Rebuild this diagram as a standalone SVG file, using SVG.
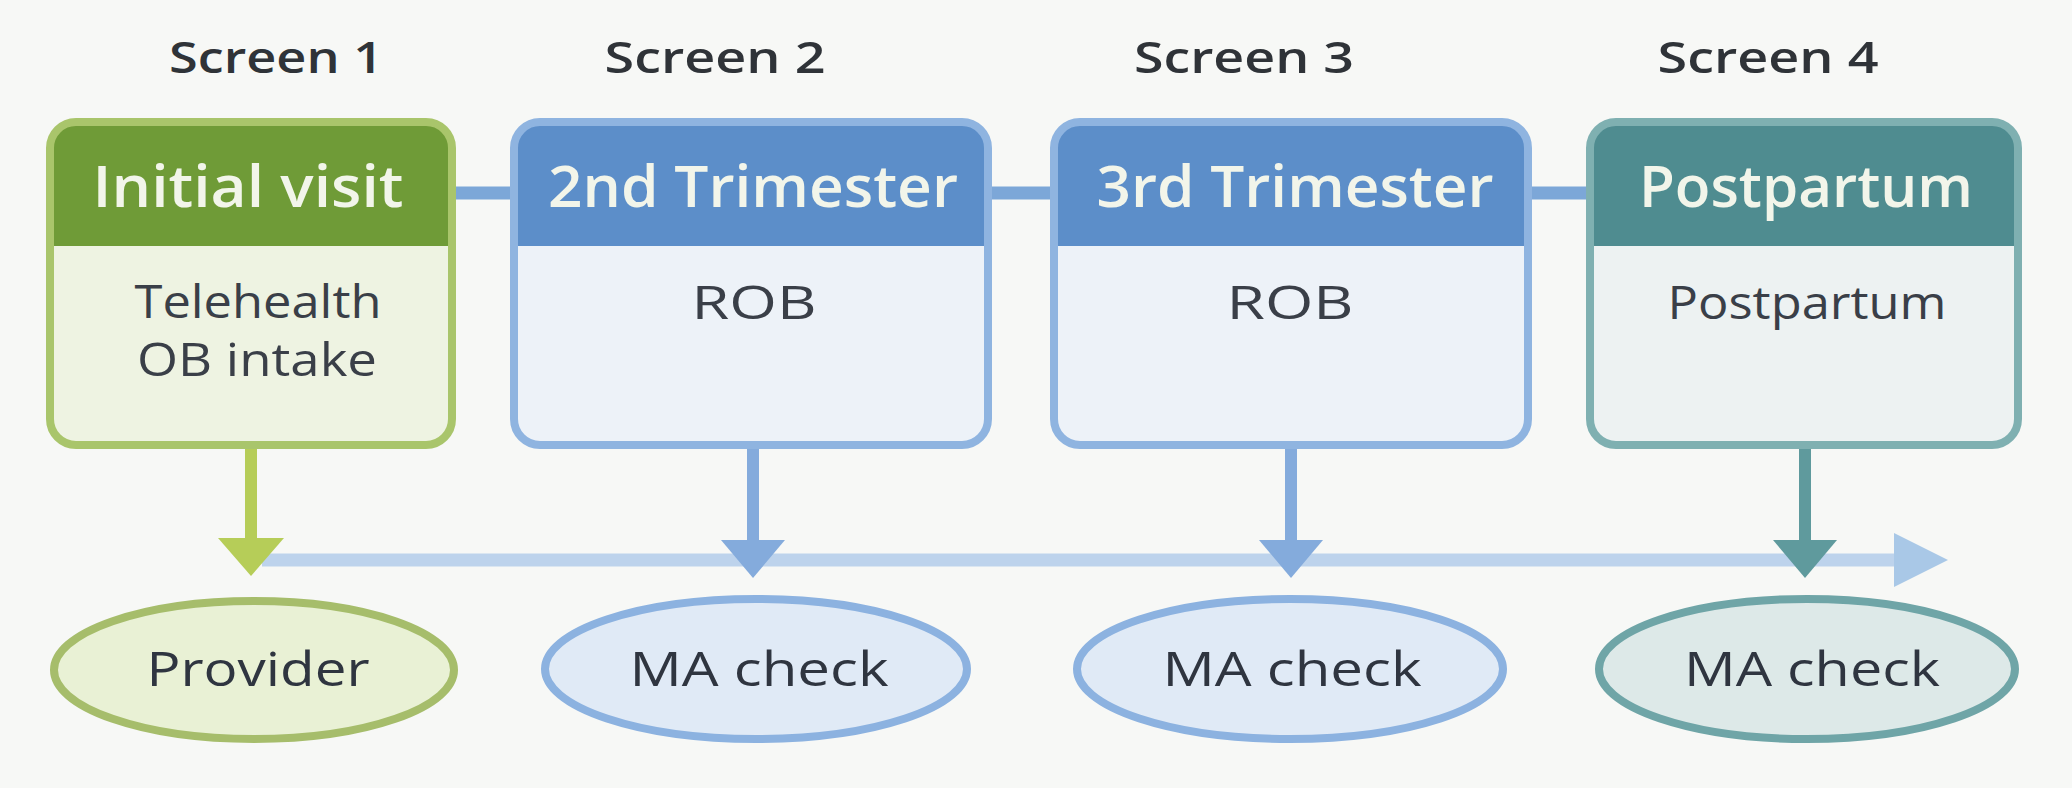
<svg xmlns="http://www.w3.org/2000/svg" width="2072" height="788" viewBox="0 0 2072 788">
  <defs>
    <style>
      text { font-family: "Open Sans", Lato, "Liberation Sans", sans-serif; text-anchor: middle; }
      .screen { font-weight: 600; font-size: 43px; fill: #2f3338; }
      .head { font-weight: 600; font-size: 58px; fill: #f2f5ea; }
      .body { font-weight: 400; font-size: 45px; fill: #3a3f48; }
      .oval { font-weight: 500; font-size: 48px; fill: #2f3540; }
      .frame { fill: none; stroke-width: 8; }
      .g-frame { stroke: #a9c56b; }
      .b-frame { stroke: #8fb4e0; }
      .t-frame { stroke: #7fb0b1; }
      .g-body { fill: #eef3e2; }
      .b-body { fill: #edf2f8; }
      .t-body { fill: #edf2f2; }
      .g-head { fill: #6f9b37; }
      .b-head { fill: #5c8ec9; }
      .t-head { fill: #4f8c90; }
      .link { stroke: #7ca7d8; stroke-width: 13; fill: none; }
      .drop { stroke-width: 12; fill: none; }
      .timeline { stroke: #bdd3ec; stroke-width: 13; fill: none; }
      .g-oval { fill: #e9f1d5; stroke: #a6bd6b; stroke-width: 8; }
      .b-oval { fill: #e0eaf6; stroke: #8cb2e0; stroke-width: 8; }
      .t-oval { fill: #dde9e8; stroke: #6fa5a7; stroke-width: 8; }
    </style>
    <marker id="head-green" markerUnits="userSpaceOnUse" markerWidth="38" markerHeight="66" refX="0" refY="33" orient="auto" viewBox="0 0 38 66">
      <path d="M0,0 L38,33 L0,66 Z" fill="#b6cd58"/>
    </marker>
    <marker id="head-blue" markerUnits="userSpaceOnUse" markerWidth="38" markerHeight="64" refX="0" refY="32" orient="auto" viewBox="0 0 38 64">
      <path d="M0,0 L38,32 L0,64 Z" fill="#84abdc"/>
    </marker>
    <marker id="head-teal" markerUnits="userSpaceOnUse" markerWidth="38" markerHeight="64" refX="0" refY="32" orient="auto" viewBox="0 0 38 64">
      <path d="M0,0 L38,32 L0,64 Z" fill="#5f9a9d"/>
    </marker>
    <marker id="head-line" markerUnits="userSpaceOnUse" markerWidth="54" markerHeight="54" refX="0" refY="27" orient="auto" viewBox="0 0 54 54">
      <path d="M0,0 L54,27 L0,54 Z" fill="#a9c8e7"/>
    </marker>
  </defs>

  <rect width="2072" height="788" fill="#f7f8f6"/>

  <!-- screen titles -->
  <g id="titles">
    <text class="screen" x="276" y="73" textLength="214" lengthAdjust="spacingAndGlyphs">Screen 1</text>
    <text class="screen" x="715" y="73" textLength="221" lengthAdjust="spacingAndGlyphs">Screen 2</text>
    <text class="screen" x="1244" y="73" textLength="220" lengthAdjust="spacingAndGlyphs">Screen 3</text>
    <text class="screen" x="1768" y="73" textLength="221" lengthAdjust="spacingAndGlyphs">Screen 4</text>
  </g>

  <!-- connectors -->
  <g id="connectors">
    <line class="link" x1="452" y1="193" x2="516" y2="193"/>
    <line class="link" x1="986" y1="193" x2="1056" y2="193"/>
    <line class="link" x1="1526" y1="193" x2="1592" y2="193"/>
    <line class="timeline" x1="262" y1="560" x2="1894" y2="560" marker-end="url(#head-line)"/>
    <line class="drop" stroke="#b6cd58" x1="251" y1="449" x2="251" y2="538" marker-end="url(#head-green)"/>
    <line class="drop" stroke="#84abdc" x1="753" y1="449" x2="753" y2="540" marker-end="url(#head-blue)"/>
    <line class="drop" stroke="#84abdc" x1="1291" y1="449" x2="1291" y2="540" marker-end="url(#head-blue)"/>
    <line class="drop" stroke="#5f9a9d" x1="1805" y1="449" x2="1805" y2="540" marker-end="url(#head-teal)"/>
  </g>

  <!-- screen 1 -->
  <g id="initial-visit">
    <rect class="g-body" x="50" y="122" width="402" height="323" rx="26"/>
    <path class="g-head" d="M50,246 V148 A26,26 0 0 1 76,122 H426 A26,26 0 0 1 452,148 V246 Z"/>
    <rect class="frame g-frame" x="50" y="122" width="402" height="323" rx="26"/>
    <text class="head" x="248" y="207" textLength="311" lengthAdjust="spacingAndGlyphs">Initial visit</text>
    <text class="body" x="258" y="318" textLength="247" lengthAdjust="spacingAndGlyphs">Telehealth</text>
    <text class="body" x="257" y="376" textLength="240" lengthAdjust="spacingAndGlyphs">OB intake</text>
  </g>

  <!-- screen 2 -->
  <g id="second-trimester">
    <rect class="b-body" x="514" y="122" width="474" height="323" rx="26"/>
    <path class="b-head" d="M514,246 V148 A26,26 0 0 1 540,122 H962 A26,26 0 0 1 988,148 V246 Z"/>
    <rect class="frame b-frame" x="514" y="122" width="474" height="323" rx="26"/>
    <text class="head" x="753" y="207" textLength="410" lengthAdjust="spacingAndGlyphs">2nd Trimester</text>
    <text class="body" x="754" y="319" textLength="125" lengthAdjust="spacingAndGlyphs">ROB</text>
  </g>

  <!-- screen 3 -->
  <g id="third-trimester">
    <rect class="b-body" x="1054" y="122" width="474" height="323" rx="26"/>
    <path class="b-head" d="M1054,246 V148 A26,26 0 0 1 1080,122 H1502 A26,26 0 0 1 1528,148 V246 Z"/>
    <rect class="frame b-frame" x="1054" y="122" width="474" height="323" rx="26"/>
    <text class="head" x="1295" y="207" textLength="397" lengthAdjust="spacingAndGlyphs">3rd Trimester</text>
    <text class="body" x="1290" y="319" textLength="127" lengthAdjust="spacingAndGlyphs">ROB</text>
  </g>

  <!-- screen 4 -->
  <g id="postpartum">
    <rect class="t-body" x="1590" y="122" width="428" height="323" rx="26"/>
    <path class="t-head" d="M1590,246 V148 A26,26 0 0 1 1616,122 H1992 A26,26 0 0 1 2018,148 V246 Z"/>
    <rect class="frame t-frame" x="1590" y="122" width="428" height="323" rx="26"/>
    <text class="head" x="1806" y="207" textLength="334" lengthAdjust="spacingAndGlyphs">Postpartum</text>
    <text class="body" x="1807" y="319" textLength="279" lengthAdjust="spacingAndGlyphs">Postpartum</text>
  </g>

  <!-- checkpoints -->
  <g id="provider">
    <ellipse class="g-oval" cx="254" cy="670" rx="200" ry="69"/>
    <text class="oval" x="258" y="686" textLength="223" lengthAdjust="spacingAndGlyphs">Provider</text>
  </g>
  <g id="ma-check-2">
    <ellipse class="b-oval" cx="756" cy="669" rx="211" ry="70"/>
    <text class="oval" x="759" y="686" textLength="259" lengthAdjust="spacingAndGlyphs">MA check</text>
  </g>
  <g id="ma-check-3">
    <ellipse class="b-oval" cx="1290" cy="669" rx="213" ry="70"/>
    <text class="oval" x="1292" y="686" textLength="259" lengthAdjust="spacingAndGlyphs">MA check</text>
  </g>
  <g id="ma-check-4">
    <ellipse class="t-oval" cx="1807" cy="669" rx="208" ry="70"/>
    <text class="oval" x="1812" y="686" textLength="256" lengthAdjust="spacingAndGlyphs">MA check</text>
  </g>
</svg>
